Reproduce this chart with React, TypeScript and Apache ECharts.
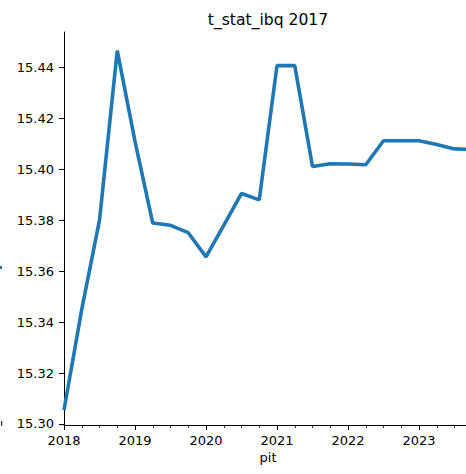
import { useEffect, useRef } from 'react';
import * as echarts from 'echarts';

const quarters = [
  '2018Q1', '2018Q2', '2018Q3', '2018Q4',
  '2019Q1', '2019Q2', '2019Q3', '2019Q4',
  '2020Q1', '2020Q2', '2020Q3', '2020Q4',
  '2021Q1', '2021Q2', '2021Q3', '2021Q4',
  '2022Q1', '2022Q2', '2022Q3', '2022Q4',
  '2023Q1', '2023Q2', '2023Q3', '2023Q4',
];
const tStat = [
  15.3055, 15.345, 15.38, 15.4466,
  15.411, 15.3789, 15.378, 15.3751,
  15.3656, 15.378, 15.3905, 15.388,
  15.4407, 15.4407, 15.4011, 15.4022,
  15.4021, 15.4018, 15.4112, 15.4112,
  15.4112, 15.4097, 15.408, 15.4078,
];
const yTicks = [15.3, 15.32, 15.34, 15.36, 15.38, 15.4, 15.42, 15.44];
const chartTitle = 't_stat_ibq 2017';
const xName = 'pit';

const FONT = "'DejaVu Sans', sans-serif";

// '2018Q3' -> 2018.5
const toYear = (q: string) => Number(q.slice(0, 4)) + (Number(q.slice(5)) - 1) / 4;

export default function App() {
  const chartRef = useRef<HTMLDivElement>(null);

  useEffect(() => {
    if (!chartRef.current) return;
    const chart = echarts.init(chartRef.current, undefined, { renderer: 'svg' });

    const option: echarts.EChartsOption = {
      animation: false,
      backgroundColor: '#fff',
      title: {
        text: chartTitle,
        left: 268,
        top: 12,
        padding: 0,
        textAlign: 'center',
        textStyle: { fontFamily: FONT, fontSize: 15.6, fontWeight: 'normal', color: '#000' },
      },
      // the plot runs past the right edge of the picture; the wrapper crops it
      grid: { left: 64, top: 32, bottom: 49, right: 0 },
      xAxis: {
        type: 'value',
        min: 2018,
        max: 2024,
        interval: 1,
        axisLine: { lineStyle: { color: '#000', width: 1 } },
        axisTick: { length: 5, lineStyle: { color: '#000', width: 1 } },
        minorTick: { show: true, splitNumber: 4, length: 3, lineStyle: { color: '#000', width: 0.8 } },
        splitLine: { show: false },
        axisLabel: {
          margin: 9,
          color: '#000',
          fontFamily: FONT,
          fontSize: 13,
          showMaxLabel: false,
          formatter: (v: number) => String(Math.round(v)),
        },
      },
      yAxis: {
        type: 'value',
        min: 15.2996,
        max: 15.4539,
        axisLine: { show: true, lineStyle: { color: '#000', width: 1 } },
        axisTick: { show: true, length: 5, customValues: yTicks, lineStyle: { color: '#000', width: 1 } },
        splitLine: { show: false },
        axisLabel: {
          margin: 10,
          color: '#000',
          fontFamily: FONT,
          fontSize: 13,
          customValues: yTicks,
          formatter: (v: number) => v.toFixed(2),
        },
      },
      graphic: [
        {
          type: 'text',
          x: 268,
          y: 457.5,
          style: { text: xName, font: `13px ${FONT}`, fill: '#000', align: 'center', verticalAlign: 'middle' },
        },
        // edges of the neighbouring panel that is cut off on the left
        { type: 'rect', shape: { x: 0, y: 266, width: 2, height: 3 }, style: { fill: '#1f77b4' } },
        { type: 'rect', shape: { x: 1, y: 421, width: 1.2, height: 5 }, style: { fill: '#333' } },
      ],
      series: [
        {
          type: 'line',
          data: quarters.map((q, i) => [toYear(q), tStat[i]]),
          showSymbol: false,
          lineStyle: { color: '#1f77b4', width: 3.6 },
          itemStyle: { color: '#1f77b4' },
        },
      ],
    };

    chart.setOption(option);
    return () => {
      chart.dispose();
    };
  }, []);

  return (
    <div style={{ position: 'fixed', left: 0, top: 0, width: 466, height: 474, overflow: 'hidden' }}>
      <div ref={chartRef} style={{ width: 490, height: 474 }} />
    </div>
  );
}
